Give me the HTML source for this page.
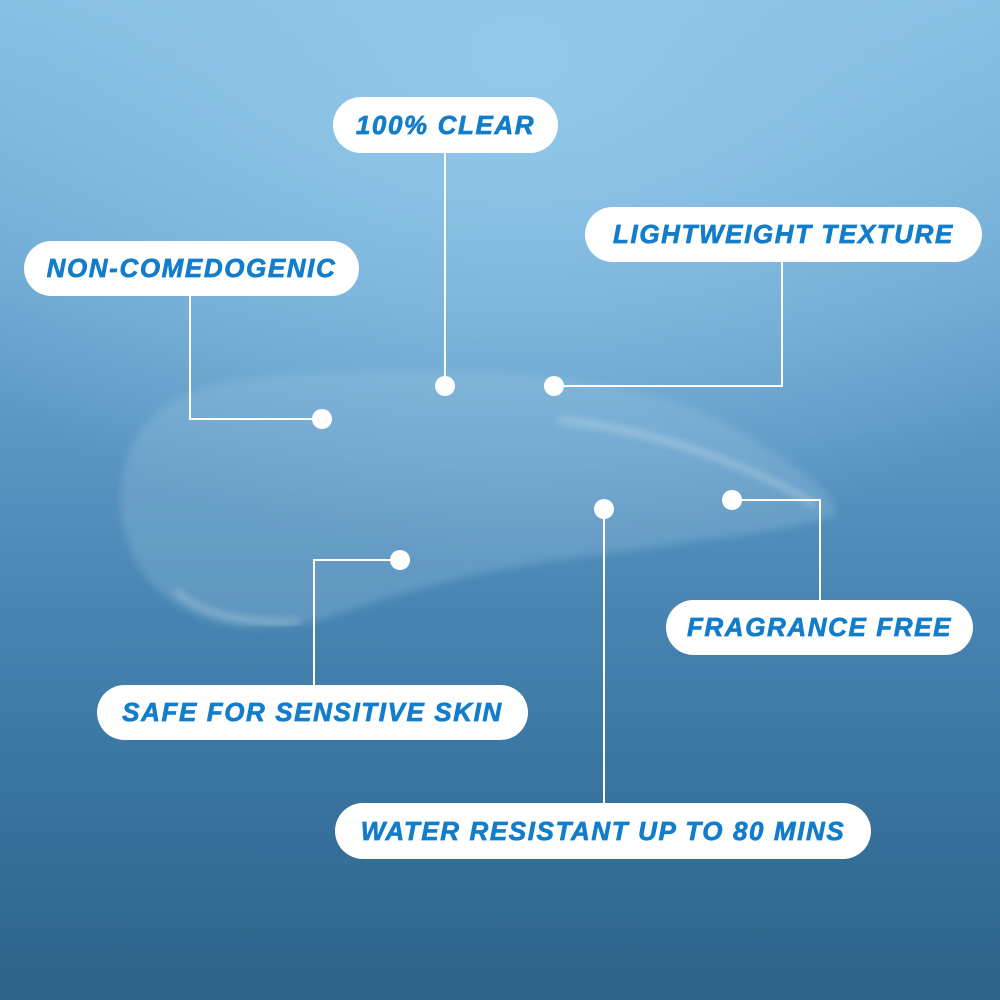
<!DOCTYPE html>
<html><head><meta charset="utf-8"><style>
html,body{margin:0;padding:0}
body{width:1000px;height:1000px;position:relative;overflow:hidden;
background:radial-gradient(ellipse 700px 500px at 520px 60px,#92c8ea 0%,rgba(146,200,234,0) 100%),linear-gradient(180deg,#84bde2 0%,#6aa4cf 30%,#4f8bb9 55%,#3b77a3 75%,#2d6289 100%);
font-family:"Liberation Sans",sans-serif}
.pill{position:absolute;background:#fff;border-radius:28px;color:#127dcb;font-weight:bold;font-style:italic;font-size:26px;display:flex;align-items:center;justify-content:center;letter-spacing:1.6px;-webkit-text-stroke:0.7px #127dcb}
svg{position:absolute;left:0;top:0}
</style></head><body>
<svg width="1000" height="1000">
<defs><filter id="b"><feGaussianBlur stdDeviation="4"/></filter></defs>
<path d="M150,420 C190,370 320,370 460,372 C600,374 700,400 770,450 C810,475 840,500 835,515 C800,530 700,540 560,560 C450,575 380,600 320,620 C240,640 170,620 135,560 C110,510 120,450 150,420 Z" fill="#a6cfe8" opacity="0.25" filter="url(#b)"/>
<path d="M560,420 C660,430 760,470 815,505" stroke="#ffffff" stroke-width="3" fill="none" opacity="0.55" filter="url(#b)"/>
<path d="M175,590 C200,615 250,625 300,622" stroke="#ffffff" stroke-width="3" fill="none" opacity="0.5" filter="url(#b)"/>
<g stroke="#fff" stroke-width="2" fill="none">
<path d="M445,153 V386"/>
<path d="M190,296 V419 H322"/>
<path d="M782,262 V386 H554"/>
<path d="M732,500 H820 V600"/>
<path d="M400,560 H314 V685"/>
<path d="M604,509 V803"/>
</g>
<g fill="#fff">
<circle cx="445" cy="386" r="10"/><circle cx="322" cy="419" r="10"/>
<circle cx="554" cy="386" r="10"/><circle cx="732" cy="500" r="10"/>
<circle cx="400" cy="560" r="10"/><circle cx="604" cy="509" r="10"/>
</g>
</svg>
<div class="pill" style="left:333px;top:97px;width:225px;height:56px">100% CLEAR</div>
<div class="pill" style="left:24px;top:241px;width:335px;height:55px">NON-COMEDOGENIC</div>
<div class="pill" style="left:585px;top:207px;width:397px;height:55px">LIGHTWEIGHT TEXTURE</div>
<div class="pill" style="left:666px;top:600px;width:307px;height:55px">FRAGRANCE FREE</div>
<div class="pill" style="left:97px;top:685px;width:431px;height:55px">SAFE FOR SENSITIVE SKIN</div>
<div class="pill" style="left:335px;top:803px;width:536px;height:56px">WATER RESISTANT UP TO 80 MINS</div>
</body></html>
